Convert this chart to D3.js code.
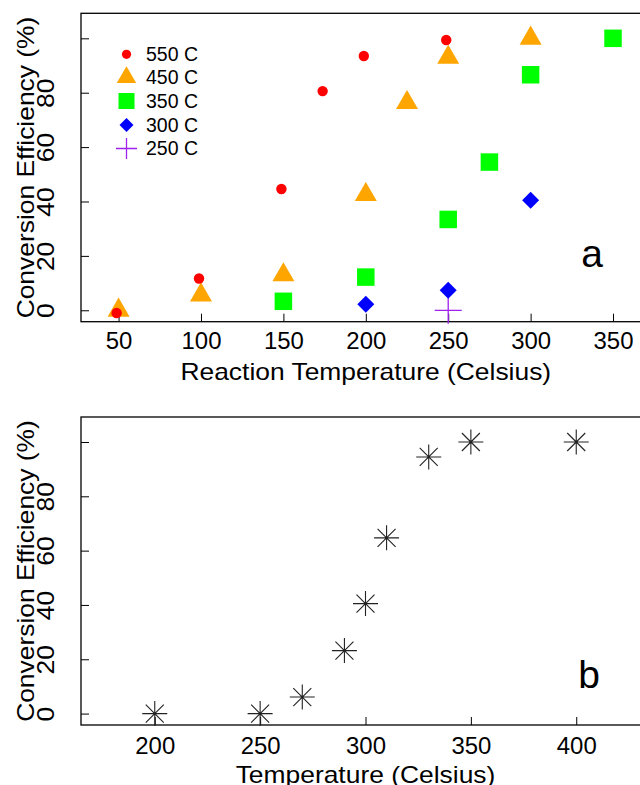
<!DOCTYPE html>
<html>
<head>
<meta charset="utf-8">
<script src="https://cdn.jsdelivr.net/npm/d3@7"></script>
<style>
  html, body { margin: 0; padding: 0; background: #fff; }
  svg { display: block; }
  text { font-family: "Liberation Sans", Arial, Helvetica, sans-serif; fill: #000; }
</style>
</head>
<body>
<svg id="chart" width="640" height="785"></svg>
<script>
// ---------- Panel a data ----------
const temps550 = [48.8, 98.8, 148.8, 173.8, 198.8, 248.8];
const eff550   = [-1, 11.7, 44.6, 80.6, 93.5, 99.4];
const temps450 = [50, 100, 150, 200, 225, 250, 300];
const eff450   = [0, 5.6, 13, 42.5, 76.3, 93, 100];
const temps350 = [150, 200, 250, 275, 300, 350];
const eff350   = [3.3, 12.2, 33.4, 54.5, 86.6, 100];
const temps300 = [200, 250, 300];
const eff300   = [2.2, 7.4, 40.5];
const temps250 = [250];
const eff250   = [0];
const legendLabels = ["550 C", "450 C", "350 C", "300 C", "250 C"];
const xTicksA = [50, 100, 150, 200, 250, 300, 350];

// ---------- Panel b data ----------
const tempsB = [200, 250, 270, 290, 300, 310, 330, 350, 400];
const effB   = [0, 0, 6.1, 23.2, 40.5, 64.7, 94.5, 100, 100];
const xTicksB = [200, 250, 300, 350, 400];

const yTicks = [0, 20, 40, 60, 80, 100];
const yTickLabels = ["0", "20", "40", "60", "80", ""];

const svg = d3.select("#chart");

function stretch(sel, f) {
  sel.each(function () {
    const len = this.getComputedTextLength();
    if (len > 0) {
      d3.select(this).attr("textLength", len * f).attr("lengthAdjust", "spacingAndGlyphs");
    }
  });
}

function panel(cfg) {
  const x = d3.scaleLinear().domain(cfg.xDomain).range(cfg.xRange);
  const y = d3.scaleLinear().domain([-4.2, 109.2]).range(cfg.yRange);
  const g = svg.append("g");

  // x axis (inward ticks)
  const xa = g.append("g")
    .attr("transform", `translate(0,${cfg.yRange[0]})`)
    .call(d3.axisBottom(x).tickValues(cfg.xTicks).tickSizeInner(-8).tickSizeOuter(0).tickFormat(d3.format("d")));
  xa.select(".domain").remove();
  xa.selectAll(".tick line").attr("stroke", "#000").attr("stroke-width", 1);
  xa.selectAll(".tick text")
    .attr("y", cfg.xLabelOffset).attr("dy", 0)
    .attr("font-size", 23).attr("font-family", null).attr("fill", "#000");
  stretch(xa.selectAll(".tick text"), 1.04);

  // y axis (inward ticks, rotated labels)
  const ya = g.append("g")
    .attr("transform", `translate(${cfg.xRange[0]},0)`)
    .call(d3.axisLeft(y).tickValues(yTicks).tickSizeInner(-8).tickSizeOuter(0)
      .tickFormat((d, i) => yTickLabels[i]));
  ya.select(".domain").remove();
  ya.selectAll(".tick line").attr("stroke", "#000").attr("stroke-width", 1);
  ya.selectAll(".tick text")
    .attr("x", 0).attr("dy", 0)
    .attr("text-anchor", "middle")
    .attr("transform", "translate(-27.5,0) rotate(-90)")
    .attr("font-size", 23).attr("font-family", null).attr("fill", "#000");
  stretch(ya.selectAll(".tick text"), 1.15);

  // box
  g.append("rect")
    .attr("x", cfg.xRange[0]).attr("y", cfg.yRange[1])
    .attr("width", cfg.xRange[1] - cfg.xRange[0])
    .attr("height", cfg.yRange[0] - cfg.yRange[1])
    .attr("fill", "none").attr("stroke", "#000").attr("stroke-width", 1.3);

  // axis titles
  const xt = g.append("text")
    .attr("x", (cfg.xRange[0] + cfg.xRange[1]) / 2)
    .attr("y", cfg.xTitleY)
    .attr("text-anchor", "middle").attr("font-size", 24)
    .text(cfg.xTitle);
  stretch(xt, 1.1);
  const yc = (cfg.yRange[0] + cfg.yRange[1]) / 2;
  const yt = g.append("text")
    .attr("transform", `translate(34,${yc}) rotate(-90)`)
    .attr("text-anchor", "middle").attr("font-size", 24)
    .text("Conversion Efficiency (%)");
  stretch(yt, 1.1);

  // panel letter
  g.append("text")
    .attr("x", cfg.letterX).attr("y", cfg.letterY)
    .attr("text-anchor", "middle").attr("font-size", 39)
    .text(cfg.letter);

  return { g, x, y };
}

// ---------- symbol helpers ----------
function triPath(cx, cy, side) {
  const h = side * Math.sqrt(3) / 2;
  return `M${cx},${cy - 2 * h / 3}L${cx + side / 2},${cy + h / 3}L${cx - side / 2},${cy + h / 3}Z`;
}
function diaPath(cx, cy, r) {
  return `M${cx},${cy - r}L${cx + r},${cy}L${cx},${cy + r}L${cx - r},${cy}Z`;
}
function plusPath(cx, cy, r) {
  return `M${cx - r},${cy}L${cx + r},${cy}M${cx},${cy - r}L${cx},${cy + r}`;
}
function starPath(cx, cy, r, d) {
  return plusPath(cx, cy, r) + `M${cx - d},${cy - d}L${cx + d},${cy + d}M${cx - d},${cy + d}L${cx + d},${cy - d}`;
}

const RED = "#ff0000", ORANGE = "#ffa500", GREEN = "#00ff00", BLUE = "#0000ff", PURPLE = "#a020f0";

// ---------- Panel a ----------
const A = panel({
  xDomain: [27.2, 372.8], xRange: [81, 650.6], yRange: [321.7, 13.3],
  xTicks: xTicksA, xLabelOffset: 27.5, xTitleY: 380,
  xTitle: "Reaction Temperature (Celsius)",
  letter: "a", letterX: 592, letterY: 267
});
const pa = A.g.append("g");
pa.selectAll(".s450").data(d3.zip(temps450, eff450)).join("path")
  .attr("d", d => triPath(A.x(d[0]), A.y(d[1]), 22)).attr("fill", ORANGE);
pa.selectAll(".s350").data(d3.zip(temps350, eff350)).join("path")
  .attr("class", "s350")
  .attr("d", d => { const s = 17.5, cx = A.x(d[0]), cy = A.y(d[1]);
    return `M${cx - s/2},${cy - s/2}h${s}v${s}h${-s}Z`; })
  .attr("fill", GREEN);
pa.selectAll(".s250").data(d3.zip(temps250, eff250)).join("path")
  .attr("class", "s250")
  .attr("d", d => plusPath(A.x(d[0]), A.y(d[1]), 13.5))
  .attr("stroke", PURPLE).attr("stroke-width", 1.3).attr("fill", "none");
pa.selectAll(".s300").data(d3.zip(temps300, eff300)).join("path")
  .attr("class", "s300")
  .attr("d", d => diaPath(A.x(d[0]), A.y(d[1]), 8.5)).attr("fill", BLUE);
pa.selectAll(".s550").data(d3.zip(temps550, eff550)).join("circle")
  .attr("class", "s550")
  .attr("cx", d => A.x(d[0])).attr("cy", d => A.y(d[1])).attr("r", 5.2).attr("fill", RED);

// legend
const lg = A.g.append("g");
const legSym = [
  (cx, cy) => lg.append("circle").attr("cx", cx).attr("cy", cy).attr("r", 4.6).attr("fill", RED),
  (cx, cy) => lg.append("path").attr("d", triPath(cx, cy, 19.5)).attr("fill", ORANGE),
  (cx, cy) => lg.append("rect").attr("x", cx - 8).attr("y", cy - 8).attr("width", 16).attr("height", 16).attr("fill", GREEN),
  (cx, cy) => lg.append("path").attr("d", diaPath(cx, cy, 7)).attr("fill", BLUE),
  (cx, cy) => lg.append("path").attr("d", plusPath(cx, cy, 10.5)).attr("stroke", PURPLE).attr("stroke-width", 1.3).attr("fill", "none")
];
const legCy = [54.3, 77.4, 101, 125, 148.5];
legendLabels.forEach((lab, i) => {
  legSym[i](126.5, legCy[i]);
  lg.append("text").attr("x", 146).attr("y", legCy[i] + 6.6)
    .attr("font-size", 19.5).text(lab);
});

// ---------- Panel b ----------
const B = panel({
  xDomain: [165, 435], xRange: [81, 650], yRange: [725, 417],
  xTicks: xTicksB, xLabelOffset: 29, xTitleY: 783,
  xTitle: "Temperature (Celsius)",
  letter: "b", letterX: 589, letterY: 688
});
B.g.append("g").selectAll("path").data(d3.zip(tempsB, effB)).join("path")
  .attr("d", d => starPath(B.x(d[0]), B.y(d[1]), 12.5, 9))
  .attr("stroke", "#222").attr("stroke-width", 1.1).attr("fill", "none");
</script>
</body>
</html>
